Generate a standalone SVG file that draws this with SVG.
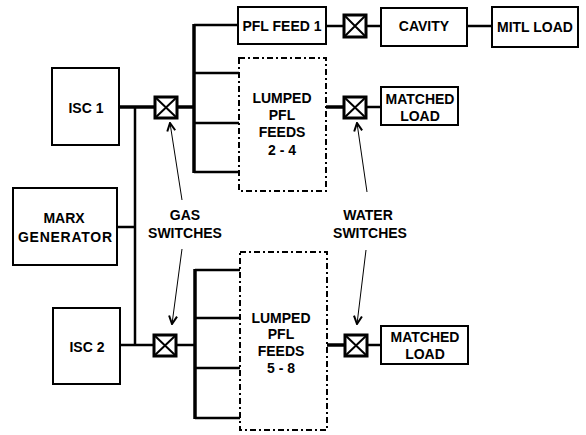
<svg xmlns="http://www.w3.org/2000/svg" width="586" height="435" viewBox="0 0 586 435">
<defs>
<style>
.box{fill:#fff;stroke:#000;stroke-width:2}
.dash{fill:#fff;stroke:#000;stroke-width:2;stroke-dasharray:6 3 2 3}
.sw{fill:#fff;stroke:#000;stroke-width:3}
.x{stroke:#000;stroke-width:2}
.ln{fill:none;stroke:#000;stroke-width:2.5}
.thk{fill:none;stroke:#000;stroke-width:3.5}
.arr{fill:none;stroke:#000;stroke-width:1;marker-end:url(#ah)}
text{font-family:"Liberation Sans",Arial,Helvetica,sans-serif;font-weight:bold;font-size:14px;text-anchor:middle;fill:#000}
</style>
<marker id="ah" viewBox="0 0 10 10" refX="9" refY="5" markerWidth="10" markerHeight="10" markerUnits="userSpaceOnUse" orient="auto">
<path d="M1,1 L9,5 L1,9" fill="none" stroke="#000" stroke-width="2"/>
</marker>
</defs>
<rect width="586" height="435" fill="#fff"/>
<g id="connectors">
<line class="thk" x1="119" y1="107" x2="155" y2="107"/>
<line class="ln" x1="135" y1="107" x2="135" y2="345"/>
<line class="ln" x1="117" y1="227" x2="135" y2="227"/>
<line class="ln" x1="120" y1="345" x2="154" y2="345"/>
<line class="thk" x1="177" y1="107" x2="194" y2="107"/>
<line class="thk" x1="194" y1="24" x2="194" y2="173"/>
<line class="ln" x1="194" y1="25" x2="238" y2="25"/>
<line class="ln" x1="194" y1="73" x2="239" y2="73"/>
<line class="ln" x1="194" y1="123" x2="239" y2="123"/>
<line class="ln" x1="194" y1="172" x2="239" y2="172"/>
<line class="ln" x1="326" y1="26" x2="344" y2="26"/>
<line class="ln" x1="366" y1="26" x2="381" y2="26"/>
<line class="ln" x1="467" y1="26" x2="492" y2="26"/>
<line class="thk" x1="326" y1="107" x2="344" y2="107"/>
<line class="ln" x1="366" y1="107" x2="381" y2="107"/>
<line class="ln" x1="176" y1="345" x2="195" y2="345"/>
<line class="thk" x1="195" y1="269" x2="195" y2="419"/>
<line class="ln" x1="195" y1="270" x2="240" y2="270"/>
<line class="ln" x1="195" y1="318" x2="240" y2="318"/>
<line class="ln" x1="195" y1="368" x2="240" y2="368"/>
<line class="ln" x1="195" y1="418" x2="240" y2="418"/>
<line class="thk" x1="327" y1="345" x2="345" y2="345"/>
<line class="ln" x1="367" y1="345" x2="381" y2="345"/>
<line class="arr" x1="182" y1="200" x2="170" y2="123"/>
<line class="arr" x1="367" y1="192" x2="357" y2="123"/>
<line class="arr" x1="182" y1="249" x2="172" y2="324"/>
<line class="arr" x1="366" y1="250" x2="357" y2="324"/>
</g>
<g id="isc1"><rect class="box" x="52" y="68" width="67" height="77"/><text x="86" y="113">ISC 1</text></g>
<g id="marx"><rect class="box" x="13" y="188" width="104" height="77"/><text x="64" y="223">MARX</text><text x="65" y="242" textLength="94">GENERATOR</text></g>
<g id="isc2"><rect class="box" x="53" y="308" width="67" height="76"/><text x="87" y="352">ISC 2</text></g>
<g id="gas-switch-1"><rect class="sw" x="155" y="97" width="22" height="21"/><path class="x" d="M155,97 L177,118 M177,97 L155,118"/></g>
<g id="gas-switch-2"><rect class="sw" x="154" y="335" width="22" height="21"/><path class="x" d="M154,335 L176,356 M176,335 L154,356"/></g>
<g id="pfl-feed-1"><rect class="box" x="238" y="7" width="88" height="37"/><text x="282" y="31">PFL FEED 1</text></g>
<g id="switch-feed-1"><rect class="sw" x="344" y="15" width="22" height="22"/><path class="x" d="M344,15 L366,37 M366,15 L344,37"/></g>
<g id="cavity"><rect class="box" x="381" y="8" width="86" height="38"/><text x="424" y="31">CAVITY</text></g>
<g id="mitl-load"><rect class="box" x="492" y="7" width="86" height="40"/><text x="535" y="32">MITL LOAD</text></g>
<g id="lumped-2-4"><rect class="dash" x="239" y="58" width="87" height="133"/><text x="282" y="103">LUMPED</text><text x="282" y="120">PFL</text><text x="282" y="137">FEEDS</text><text x="282" y="155">2 - 4</text></g>
<g id="water-switch-1"><rect class="sw" x="344" y="97" width="22" height="21"/><path class="x" d="M344,97 L366,118 M366,97 L344,118"/></g>
<g id="matched-load-1"><rect class="box" x="381" y="87" width="77" height="38"/><text x="420" y="104">MATCHED</text><text x="420" y="121">LOAD</text></g>
<g id="lumped-5-8"><rect class="dash" x="240" y="252" width="87" height="178"/><text x="281" y="323">LUMPED</text><text x="281" y="339">PFL</text><text x="281" y="356">FEEDS</text><text x="281" y="373">5 - 8</text></g>
<g id="water-switch-2"><rect class="sw" x="345" y="335" width="22" height="21"/><path class="x" d="M345,335 L367,356 M367,335 L345,356"/></g>
<g id="matched-load-2"><rect class="box" x="381" y="326" width="87" height="38"/><text x="425" y="342">MATCHED</text><text x="425" y="359">LOAD</text></g>
<g id="gas-switches-label"><text x="185" y="220">GAS</text><text x="185" y="238">SWITCHES</text></g>
<g id="water-switches-label"><text x="368" y="220">WATER</text><text x="370" y="238">SWITCHES</text></g>
</svg>
